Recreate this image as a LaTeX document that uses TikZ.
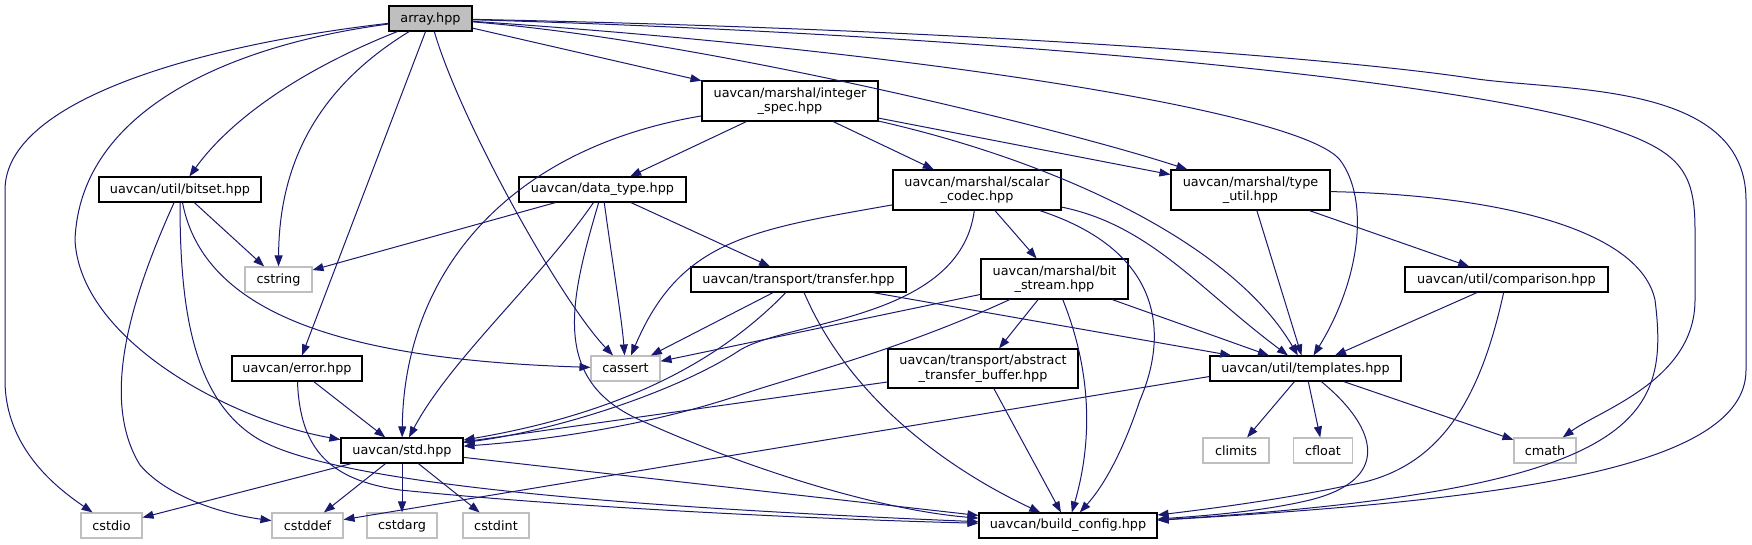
\documentclass[tikz,border=0pt]{standalone}
\usepackage{fontspec}
\setmainfont{DejaVu Sans}
\usetikzlibrary{arrows.meta}
\definecolor{edgeblue}{HTML}{191970}
\definecolor{sysgray}{HTML}{BFBFBF}
\begin{document}
\begin{tikzpicture}[x=1pt,y=-1pt,
  hdr/.style={draw=black, line width=1.1pt, fill=white, inner sep=0pt,
    minimum height=25pt, align=center, font=\fontsize{12.8}{14.3}\selectfont},
  sys/.style={hdr, draw=sysgray},
  dep/.style={draw=edgeblue, line width=1pt, -{Triangle[length=11pt,width=8pt]}}]
\useasboundingbox (0,0) rectangle (1752,544);

% headers
\node[hdr, fill=sysgray, minimum width=83] (arr) at (430.5,18.5) {array.hpp};
\node[hdr, minimum width=176, minimum height=40] (intspec) at (790,101) {uavcan/marshal/integer\\\_spec.hpp};
\node[hdr, minimum width=162] (bitset) at (180,189.5) {uavcan/util/bitset.hpp};
\node[hdr, minimum width=167] (dtype) at (602.5,189.5) {uavcan/data\_type.hpp};
\node[hdr, minimum width=168, minimum height=40] (scalar) at (977,190) {uavcan/marshal/scalar\\\_codec.hpp};
\node[hdr, minimum width=159, minimum height=40] (tutil) at (1250.5,190) {uavcan/marshal/type\\\_util.hpp};
\node[sys, minimum width=67] (cstring) at (278.5,279.5) {cstring};
\node[hdr, minimum width=215] (transfer) at (798.5,279.5) {uavcan/transport/transfer.hpp};
\node[hdr, minimum width=147, minimum height=40] (bitstream) at (1054.5,279) {uavcan/marshal/bit\\\_stream.hpp};
\node[hdr, minimum width=203] (cmp) at (1506.5,279.5) {uavcan/util/comparison.hpp};
\node[hdr, minimum width=130] (err) at (297,368.5) {uavcan/error.hpp};
\node[sys, minimum width=69] (cassert) at (625.5,368.5) {cassert};
\node[hdr, minimum width=190, minimum height=39] (abuf) at (983,368.5) {uavcan/transport/abstract\\\_transfer\_buffer.hpp};
\node[hdr, minimum width=191] (tmpl) at (1305.5,368.5) {uavcan/util/templates.hpp};
\node[hdr, minimum width=122] (std) at (402,450.5) {uavcan/std.hpp};
\node[sys, minimum width=66] (climits) at (1236,450.5) {climits};
\node[sys, minimum width=59] (cfloat) at (1323,450.5) {cfloat};
\node[sys, minimum width=62] (cmath) at (1545,450.5) {cmath};
\node[sys, minimum width=61] (cstdio) at (111.5,525.5) {cstdio};
\node[sys, minimum width=71] (cstddef) at (307.5,525.5) {cstddef};
\node[sys, minimum width=70] (cstdarg) at (402,525.5) {cstdarg};
\node[sys, minimum width=66] (cstdint) at (496,525.5) {cstdint};
\node[hdr, minimum width=178] (bcfg) at (1068,525.5) {uavcan/build\_config.hpp};

% array.hpp
\draw[dep] (arr) .. controls (200,45) and (5,100) .. (5,190) -- (5,380) .. controls (5,450) and (60,490) .. (cstdio);
\draw[dep] (arr) .. controls (230,45) and (80,110) .. (75,240) .. controls (80,340) and (230,420) .. (std);
\draw[dep] (arr) .. controls (300,70) and (230,120) .. (bitset);
\draw[dep] (arr) .. controls (330,80) and (279,150) .. (cstring);
\draw[dep] (arr) -- (err);
\draw[dep] (arr) .. controls (460,120) and (560,300) .. (cassert);
\draw[dep] (arr) -- (intspec);
\draw[dep] (arr) .. controls (700,40) and (1060,128) .. (tutil);
\draw[dep] (arr) .. controls (900,50) and (1300,110) .. (1340,160) .. controls (1370,200) and (1360,280) .. (tmpl);
\draw[dep] (arr) .. controls (1000,35) and (1450,80) .. (1600,125) .. controls (1680,150) and (1695,170) .. (1695,230) -- (1695,300) .. controls (1695,380) and (1600,410) .. (cmath);
\draw[dep] (arr) .. controls (1000,30) and (1350,60) .. (1470,78) .. controls (1560,92) and (1746,80) .. (1746,200) -- (1746,370) .. controls (1746,470) and (1500,500) .. (bcfg);

% integer_spec.hpp
\draw[dep] (intspec) .. controls (500,150) and (404,280) .. (std);
\draw[dep] (intspec) -- (dtype);
\draw[dep] (intspec) -- (scalar);
\draw[dep] (intspec) -- (tutil);
\draw[dep] (intspec) .. controls (1050,160) and (1230,240) .. (tmpl);

% bitset.hpp
\draw[dep] (bitset) -- (cstring);
\draw[dep] (bitset) .. controls (205,320) and (360,360) .. (cassert);
\draw[dep] (bitset) .. controls (130,300) and (100,400) .. (140,465) .. controls (170,500) and (230,515) .. (cstddef);
\draw[dep] (bitset) .. controls (180,300) and (190,400) .. (260,440) .. controls (350,490) and (700,510) .. (bcfg);

% data_type.hpp
\draw[dep] (dtype) -- (cstring);
\draw[dep] (dtype) -- (transfer);
\draw[dep] (dtype) .. controls (540,280) and (450,360) .. (std);
\draw[dep] (dtype) .. controls (612,260) and (622,320) .. (cassert);
\draw[dep] (dtype) .. controls (570,300) and (550,380) .. (640,420) .. controls (750,470) and (880,510) .. (bcfg);

% scalar_codec.hpp
\draw[dep] (scalar) .. controls (750,230) and (680,240) .. (cassert);
\draw[dep] (scalar) .. controls (960,320) and (790,320) .. (740,350) .. controls (680,390) and (560,430) .. (std);
\draw[dep] (scalar) -- (bitstream);
\draw[dep] (scalar) .. controls (1160,250) and (1170,330) .. (1140,400) .. controls (1120,460) and (1100,490) .. (bcfg);
\draw[dep] (scalar) .. controls (1150,225) and (1200,290) .. (tmpl);

% type_util.hpp
\draw[dep] (tutil) -- (tmpl);
\draw[dep] (tutil) -- (cmp);
\draw[dep] (tutil) .. controls (1500,195) and (1640,230) .. (1655,300) .. controls (1670,420) and (1640,490) .. (bcfg);

% transfer.hpp
\draw[dep] (transfer) -- (cassert);
\draw[dep] (transfer) .. controls (730,350) and (640,410) .. (std);
\draw[dep] (transfer) .. controls (850,400) and (950,470) .. (bcfg);
\draw[dep] (transfer) -- (tmpl);

% bit_stream.hpp
\draw[dep] (bitstream) -- (cassert);
\draw[dep] (bitstream) .. controls (900,350) and (800,375) .. (740,395) .. controls (650,425) and (550,440) .. (std);
\draw[dep] (bitstream) -- (abuf);
\draw[dep] (bitstream) -- (tmpl);
\draw[dep] (bitstream) .. controls (1095,380) and (1090,450) .. (bcfg);

% abstract_transfer_buffer.hpp
\draw[dep] (abuf) -- (std);
\draw[dep] (abuf) -- (bcfg);

% comparison.hpp
\draw[dep] (cmp) -- (tmpl);
\draw[dep] (cmp) .. controls (1480,400) and (1440,470) .. (1350,485) .. controls (1280,500) and (1200,510) .. (bcfg);

% templates.hpp
\draw[dep] ([yshift=-8pt]tmpl.west) -- (cstddef);
\draw[dep] (tmpl) -- (climits);
\draw[dep] (tmpl) -- (cfloat);
\draw[dep] (tmpl) .. controls (1380,430) and (1390,480) .. (1310,500) .. controls (1260,512) and (1200,516) .. (bcfg);
\draw[dep] (tmpl) -- (cmath);

% error.hpp and std.hpp
\draw[dep] (err) -- (std);
\draw[dep] (err) .. controls (300,450) and (330,480) .. (400,490) .. controls (600,510) and (850,520) .. (bcfg);
\draw[dep] (std) -- (cstdio);
\draw[dep] (std) -- (cstddef);
\draw[dep] (std) -- (cstdarg);
\draw[dep] (std) -- (cstdint);
\draw[dep] (std) -- (bcfg);
\end{tikzpicture}
\end{document}
